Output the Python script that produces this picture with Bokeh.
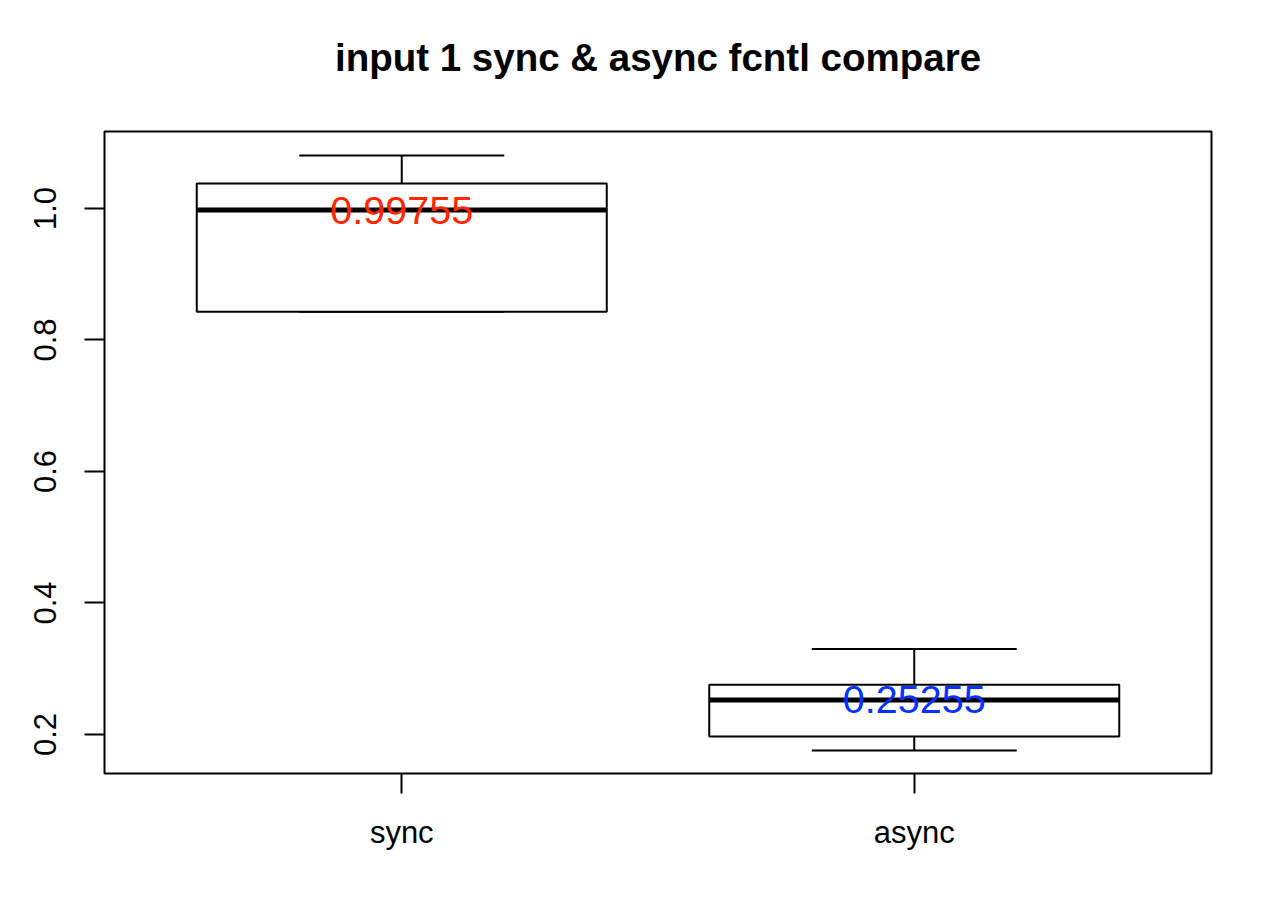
from bokeh.plotting import figure
from bokeh.models import Range1d, FixedTicker, Title
from bokeh.core.properties import value
from bokeh.embed import file_html
from bokeh.resources import INLINE

# ---- data ----
categories = ["sync", "async"]
positions = [1, 2]
whisker_low = [0.843, 0.1757]
q1 = [0.843, 0.197]
medians = [0.99755, 0.25255]
q3 = [1.038, 0.2755]
whisker_high = [1.0806, 0.3300]
median_labels = ["0.99755", "0.25255"]
label_colors = ["#ff2600", "#0433ff"]
y_ticks = [0.2, 0.4, 0.6, 0.8, 1.0]
y_tick_labels = ["0.2", "0.4", "0.6", "0.8", "1.0"]
title_text = "input 1 sync & async fcntl compare"

FONT = "Liberation Sans"
BOX_HALF = 0.4
CAP_HALF = 0.2

p = figure(width=1262, height=916, output_backend="svg", toolbar_location=None,
           x_range=Range1d(0.42, 2.58), y_range=Range1d(0.1407, 1.117),
           min_border_left=104, min_border_right=51,
           min_border_top=131, min_border_bottom=143,
           background_fill_color="white", border_fill_color="white")

p.title.text = ""
p.title.standoff = 0
# spacer between the frame and the main title
p.add_layout(Title(text=" ", text_font=FONT, text_font_size="20px", standoff=29), "above")
p.add_layout(Title(text=title_text, align="center", text_font=FONT, text_font_size="38.5px",
                   text_font_style="bold", text_color="black", standoff=0), "above")

p.xgrid.visible = False
p.ygrid.visible = False
p.outline_line_color = "black"
p.outline_line_width = 2
p.outline_line_alpha = 1.0

# whiskers
p.segment(x0=positions, y0=q3, x1=positions, y1=whisker_high, line_color="black", line_width=2)
p.segment(x0=positions, y0=whisker_low, x1=positions, y1=q1, line_color="black", line_width=2)
p.segment(x0=[x - CAP_HALF for x in positions], y0=whisker_high,
          x1=[x + CAP_HALF for x in positions], y1=whisker_high, line_color="black", line_width=2)
p.segment(x0=[x - CAP_HALF for x in positions], y0=whisker_low,
          x1=[x + CAP_HALF for x in positions], y1=whisker_low, line_color="black", line_width=2)
# boxes
p.quad(left=[x - BOX_HALF for x in positions], right=[x + BOX_HALF for x in positions],
       bottom=q1, top=q3, fill_color="white", line_color="black", line_width=2)
# medians
p.segment(x0=[x - BOX_HALF for x in positions], y0=medians,
          x1=[x + BOX_HALF for x in positions], y1=medians, line_color="black", line_width=5)
# median labels
p.text(x=positions, y=medians, text=median_labels, text_color=label_colors,
       text_font=value(FONT), text_font_size="39.5px", text_align="center",
       text_baseline="middle")

# axes
p.xaxis.ticker = FixedTicker(ticks=positions)
p.xaxis.major_label_overrides = {pos: cat for pos, cat in zip(positions, categories)}
p.yaxis.ticker = FixedTicker(ticks=y_ticks)
p.yaxis.major_label_overrides = {t: s for t, s in zip(y_ticks, y_tick_labels)}
p.yaxis.major_label_orientation = "vertical"
for ax in (p.xaxis[0], p.yaxis[0]):
    ax.axis_line_color = None
    ax.major_tick_line_color = "black"
    ax.major_tick_line_width = 2
    ax.major_tick_out = 20
    ax.major_tick_in = 0
    ax.minor_tick_line_color = None
    ax.major_label_text_font = FONT
    ax.major_label_text_font_size = "31px"
    ax.major_label_text_color = "black"
p.xaxis.major_label_standoff = 21
p.yaxis.major_label_standoff = 28

open("out.html", "w").write(file_html(p, INLINE))
